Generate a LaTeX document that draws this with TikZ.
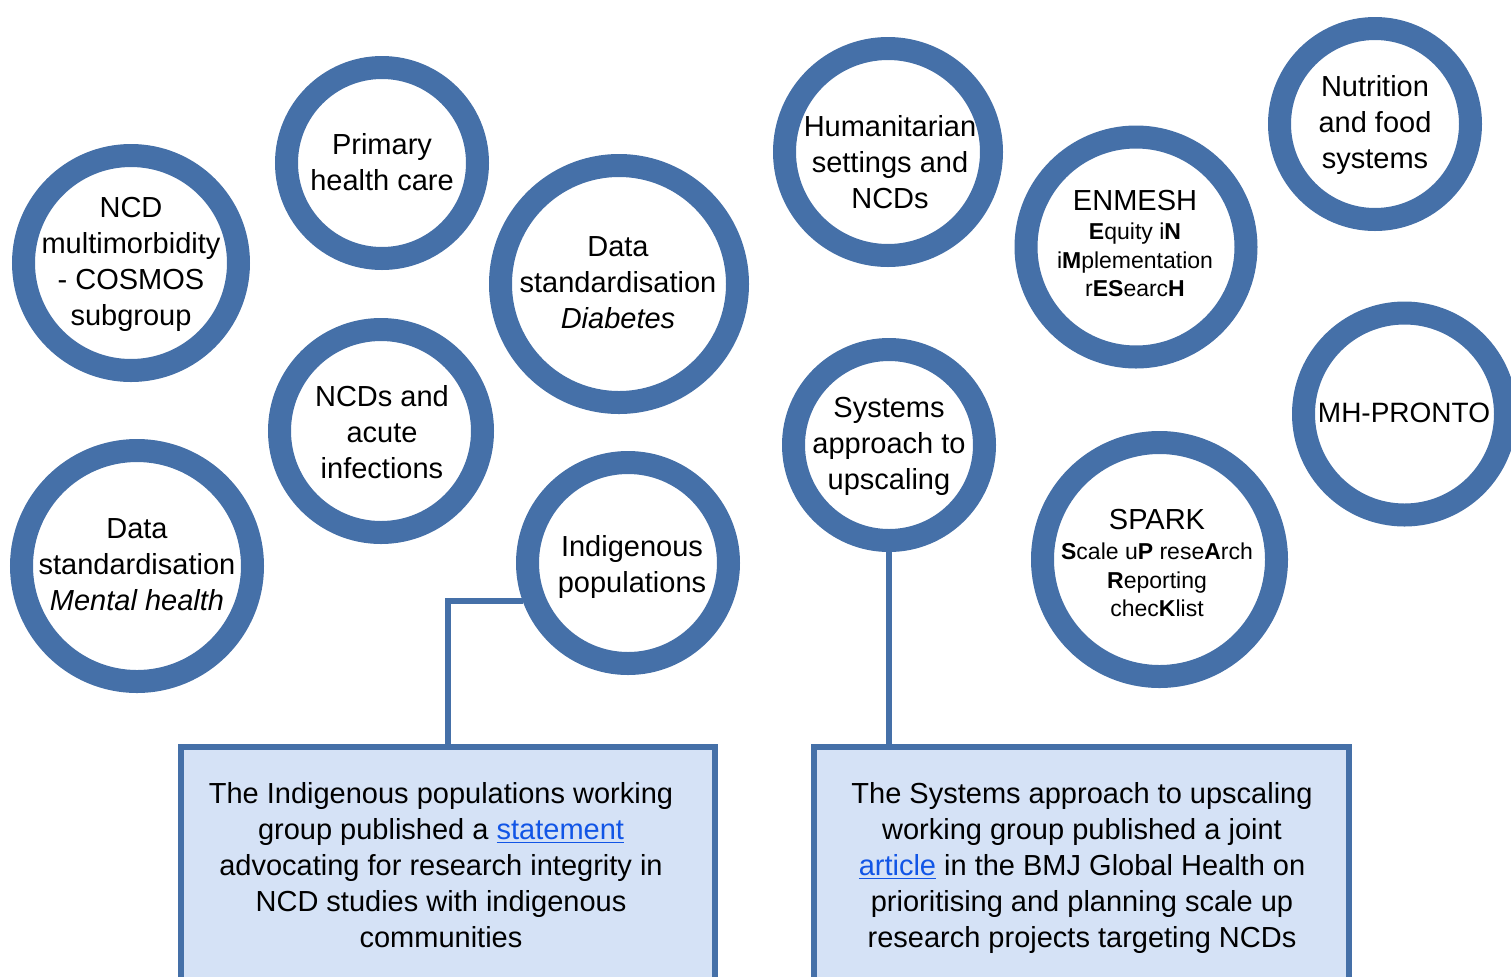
\documentclass[tikz,border=0pt]{standalone}
\usepackage{fontspec}
\setmainfont{Liberation Sans}
\definecolor{ringblue}{RGB}{69,112,168}
\definecolor{boxfill}{RGB}{213,226,246}
\definecolor{linkblue}{RGB}{17,85,230}
\begin{document}
\begin{tikzpicture}[x=0.5pt,y=-0.5pt,
  ring/.style={circle,draw=ringblue,line width=11.5pt,fill=white,inner sep=0pt},
  txt/.style={align=center,font=\fontsize{14.5}{18}\selectfont,inner sep=0pt},
  small/.style={align=center,font=\fontsize{11.5}{14.25}\selectfont,inner sep=0pt},
  gbox/.style={rectangle,draw=ringblue,line width=3pt,fill=boxfill,inner sep=0pt,anchor=north,minimum width=267pt,minimum height=130pt},
  conn/.style={draw=ringblue,line width=3pt}]
\useasboundingbox (0,0) rectangle (1511,976);
\clip (0,0) rectangle (1511,976);
% boxes
\node[gbox] (boxL) at (448,744) {};
\node[gbox,minimum width=267.5pt] (boxR) at (1081.5,744) {};
% circles
\node[ring,minimum size=107.5pt] (ncd) at (131,263) {};
\node[ring,minimum size=95.5pt] (phc) at (382,163) {};
\node[ring,minimum size=118.5pt] (dsd) at (619,284) {};
\node[ring,minimum size=101.5pt] (acute) at (381,431) {};
\node[ring,minimum size=115.5pt] (dsm) at (137,566) {};
\node[ring,minimum size=100.5pt] (indig) at (628,563) {};
\node[ring,minimum size=103.5pt] (hum) at (888,152) {};
\node[ring,minimum size=95.5pt] (nutr) at (1375,124) {};
\node[ring,minimum size=110pt] (enmesh) at (1136,247) {};
\node[ring,minimum size=95.5pt] (sys) at (889,445) {};
\node[ring,minimum size=101pt] (mh) at (1404.5,414) {};
\node[ring,minimum size=117pt] (spark) at (1159.5,559.5) {};
% connectors
\draw[conn] (indig.200) -| (boxL.north);
\draw[conn] (sys.south) -- (sys.south |- boxR.north);
% circle texts
\node[txt] (t1) at (131,264) {NCD\\multimorbidity\\- COSMOS\\subgroup};
\node[txt] (t2) at (382,162) {Primary\\health care};
\node[txt] (t3) at (618,283) {Data\\standardisation\\\textit{Diabetes}};
\node[txt] (t4) at (382,432) {NCDs and\\acute\\infections};
\node[txt] (t5) at (137,565) {Data\\standardisation\\\textit{Mental health}};
\node[txt] (t6) at (632,567) {Indigenous\\populations};
\node[txt] (t7) at (890,162) {Humanitarian\\settings and\\NCDs};
\node[txt] (t8) at (1375,125) {Nutrition\\and food\\systems};
\node[txt] (t9a) at (1135,201) {ENMESH};
\node[small] (t9b) at (1135,260) {\textbf{E}quity i\textbf{N}\\i\textbf{M}plementation\\r\textbf{ES}earc\textbf{H}};
\node[txt] (t10) at (889,446) {Systems\\approach to\\upscaling};
\node[txt,font=\fontsize{14}{18}\selectfont] (t11) at (1404,413) {MH-PRONTO};
\node[txt] (t12a) at (1157,520) {SPARK};
\node[small] (t12b) at (1157,580) {\textbf{S}cale u\textbf{P} rese\textbf{A}rch\\\textbf{R}eporting\\chec\textbf{K}list};
% box texts
\node[txt] (bt1) at (441,865) {The Indigenous populations working\\group published a \textcolor{linkblue}{\underline{statement}}\\advocating for research integrity in\\NCD studies with indigenous\\communities};
\node[txt] (bt2) at (1082,868) {The Systems approach to upscaling\\working group published a joint\\\textcolor{linkblue}{\underline{article}} in the BMJ Global Health on\\prioritising and planning scale up\\research projects targeting NCDs};
\end{tikzpicture}
\end{document}
